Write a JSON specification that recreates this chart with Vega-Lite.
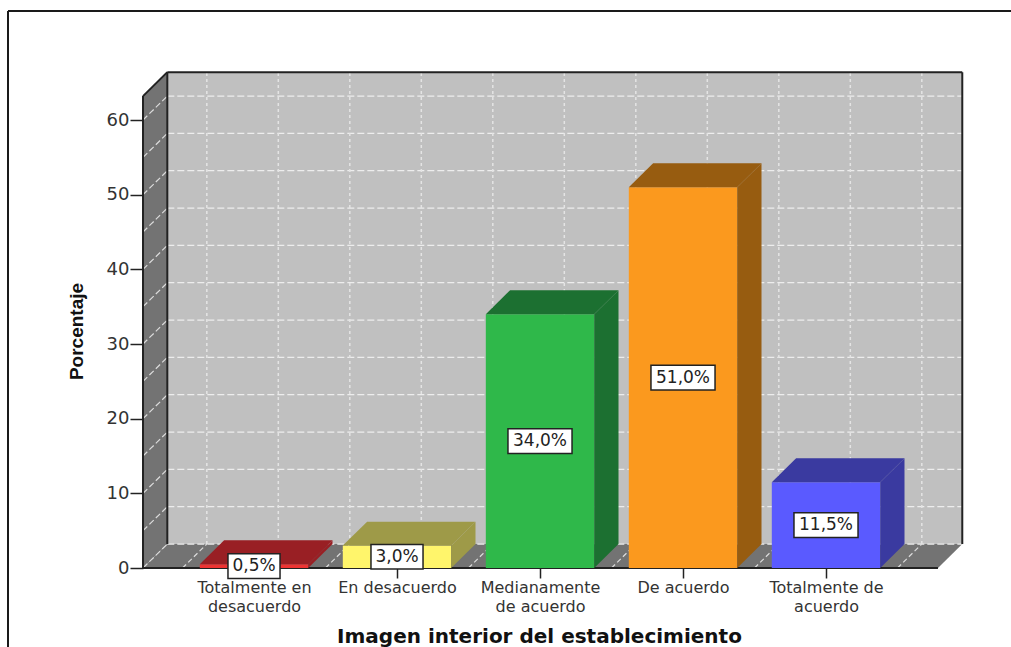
{
"$schema":"https://vega.github.io/schema/vega-lite/v6.json",
"width":1003,"height":636,
"autosize":"none",
"padding":{"left":8,"top":11,"right":0,"bottom":0},
"background":"white",
"view":{"stroke":null,"fill":"white"},
"params":[
{"name":"dx","value":0.17},
{"name":"dy","value":3.21},
{"name":"xMin","value":0.2238},
{"name":"xMax","value":5.783},
{"name":"yMax","value":63.2},
{"name":"hw","value":0.379},
{"name":"xLo","value":-0.7203},
{"name":"xHi","value":6.2937},
{"name":"yLo","value":-10.58},
{"name":"yHi","value":74.6}
],
"datasets":{
"bars":[
{"categoria":"Totalmente en desacuerdo","pos":1,"porcentaje":0.5,"etiqueta":"0,5%"},
{"categoria":"En desacuerdo","pos":2,"porcentaje":3.0,"etiqueta":"3,0%"},
{"categoria":"Medianamente de acuerdo","pos":3,"porcentaje":34.0,"etiqueta":"34,0%"},
{"categoria":"De acuerdo","pos":4,"porcentaje":51.0,"etiqueta":"51,0%"},
{"categoria":"Totalmente de acuerdo","pos":5,"porcentaje":11.5,"etiqueta":"11,5%"}
],
"levels":[{"v":0},{"v":5},{"v":10},{"v":15},{"v":20},{"v":25},{"v":30},{"v":35},{"v":40},{"v":45},{"v":50},{"v":55},{"v":60}],
"cuts":[{"c":0.5},{"c":1},{"c":1.5},{"c":2},{"c":2.5},{"c":3},{"c":3.5},{"c":4},{"c":4.5},{"c":5},{"c":5.5}],
"one":[{"k":0},{"k":1}],
"edges":[
{"a":0,"b":1,"z":0,"a2":0,"b2":0,"z2":0},
{"a":0,"b":1,"z":0,"a2":0,"b2":1,"z2":1},
{"a":0,"b":1,"z":1,"a2":1,"b2":1,"z2":1},
{"a":0,"b":0,"z":1,"a2":0,"b2":1,"z2":1},
{"a":1,"b":0,"z":1,"a2":1,"b2":1,"z2":1},
{"a":0,"b":0,"z":0,"a2":1,"b2":0,"z2":0}
],
"border":[
{"a":0,"b":0,"a2":0,"b2":1},
{"a":0,"b":1,"a2":1,"b2":1}
]
},
"data":{"name":"bars"},
"encoding":{
"x":{"field":"x","type":"quantitative","scale":{"domain":[-0.7203,6.2937],"nice":false,"zero":false},
"axis":{"orient":"bottom","offset":-79,"domain":false,"grid":false,"values":[1,2,3,4,5],"tickColor":"#222","tickSize":10,"tickWidth":1.5,
"labelExpr":"[['Totalmente en','desacuerdo'],['En desacuerdo'],['Medianamente','de acuerdo'],['De acuerdo'],['Totalmente de','acuerdo']][datum.value-1]",
"labelFont":"DejaVu Sans","labelFontSize":16,"labelColor":"#333","labelLineHeight":19,"labelPadding":1,"labelOverlap":false,"labelFlush":false,
"title":"Imagen interior del establecimiento","titleFont":"DejaVu Sans","titleFontSize":20,"titleFontWeight":"bold","titleColor":"#111","titleX":531,"titleY":74,"titleBaseline":"alphabetic"}},
"y":{"field":"y","type":"quantitative","scale":{"domain":[-10.58,74.6],"nice":false,"zero":false},
"axis":{"orient":"left","offset":-135,"domain":false,"grid":false,"values":[0,10,20,30,40,50,60],"tickColor":"#222","tickSize":13,"tickWidth":1.5,
"labelFont":"DejaVu Sans","labelFontSize":18,"labelColor":"#333","labelPadding":1,
"title":"Porcentaje","titleFont":"Liberation Sans","titleFontSize":19,"titleFontWeight":"bold","titleColor":"#111","titleAngle":270,"titleX":-57,"titleY":320}}
},
"layer":[
{"data":{"name":"border"},"transform":[
{"calculate":"xLo+datum.a*(xHi-xLo)","as":"x"},{"calculate":"xLo+datum.a2*(xHi-xLo)","as":"x2"},
{"calculate":"yLo+datum.b*(yHi-yLo)","as":"y"},{"calculate":"yLo+datum.b2*(yHi-yLo)","as":"y2"}],
"mark":{"type":"rule","color":"#1a1a1a","strokeWidth":2},"encoding":{"x2":{"field":"x2"},"y2":{"field":"y2"}}},
{"data":{"name":"one"},"transform":[{"filter":"datum.k==0"},{"calculate":"xMin+dx","as":"x"},{"calculate":"xMax+dx","as":"x2"},{"calculate":"dy","as":"y"},{"calculate":"yMax+dy","as":"y2"}],
"mark":{"type":"rect","fill":"#c0c0c0"},"encoding":{"x2":{"field":"x2"},"y2":{"field":"y2"}}},
{"data":{"name":"one"},"transform":[{"calculate":"xMin+datum.k*dx","as":"x"},{"calculate":"datum.k*dy","as":"y"},{"calculate":"yMax+datum.k*dy","as":"y2"}],
"mark":{"type":"area","fill":"#737373","orient":"vertical"},"encoding":{"y2":{"field":"y2"}}},
{"data":{"name":"one"},"transform":[{"calculate":"datum.k*dy","as":"y"},{"calculate":"xMin+datum.k*dx","as":"x"},{"calculate":"xMax+datum.k*dx","as":"x2"}],
"mark":{"type":"area","fill":"#737373","orient":"horizontal"},"encoding":{"x2":{"field":"x2"}}},
{"data":{"name":"levels"},"transform":[{"calculate":"xMin+dx","as":"x"},{"calculate":"xMax+dx","as":"x2"},{"calculate":"datum.v+dy","as":"y"},{"calculate":"datum.v+dy","as":"y2"}],
"mark":{"type":"rule","color":"#ededed","strokeWidth":1.2,"strokeDash":[7,3]},"encoding":{"x2":{"field":"x2"},"y2":{"field":"y2"}}},
{"data":{"name":"levels"},"transform":[{"calculate":"xMin","as":"x"},{"calculate":"xMin+dx","as":"x2"},{"calculate":"datum.v","as":"y"},{"calculate":"datum.v+dy","as":"y2"}],
"mark":{"type":"rule","color":"#dcdcdc","strokeWidth":1.2,"strokeDash":[6,3]},"encoding":{"x2":{"field":"x2"},"y2":{"field":"y2"}}},
{"data":{"name":"cuts"},"transform":[{"calculate":"datum.c+dx","as":"x"},{"calculate":"datum.c+dx","as":"x2"},{"calculate":"dy","as":"y"},{"calculate":"yMax+dy","as":"y2"}],
"mark":{"type":"rule","color":"#e4e4e4","strokeWidth":1.5,"strokeDash":[3,3]},"encoding":{"x2":{"field":"x2"},"y2":{"field":"y2"}}},
{"data":{"name":"cuts"},"transform":[{"calculate":"datum.c","as":"x"},{"calculate":"datum.c+dx","as":"x2"},{"calculate":"0","as":"y"},{"calculate":"dy","as":"y2"}],
"mark":{"type":"rule","color":"#dcdcdc","strokeWidth":1.2,"strokeDash":[5,3]},"encoding":{"x2":{"field":"x2"},"y2":{"field":"y2"}}},
{"data":{"name":"edges"},"transform":[
{"calculate":"xMin+datum.a*(xMax-xMin)+datum.z*dx","as":"x"},
{"calculate":"xMin+datum.a2*(xMax-xMin)+datum.z2*dx","as":"x2"},
{"calculate":"datum.b*yMax+datum.z*dy","as":"y"},
{"calculate":"datum.b2*yMax+datum.z2*dy","as":"y2"}],
"mark":{"type":"rule","color":"#222","strokeWidth":2},"encoding":{"x2":{"field":"x2"},"y2":{"field":"y2"}}},
{"transform":[{"calculate":"datum.pos-hw","as":"x"},{"calculate":"datum.pos+hw","as":"x2"},{"calculate":"0","as":"y"},{"calculate":"datum.porcentaje","as":"y2"}],
"mark":{"type":"rect"},
"encoding":{"x2":{"field":"x2"},"y2":{"field":"y2"},
"color":{"field":"categoria","type":"nominal","legend":null,"scale":{"domain":["Totalmente en desacuerdo","En desacuerdo","Medianamente de acuerdo","De acuerdo","Totalmente de acuerdo"],"range":["#ee3333","#fff56b","#2fb84a","#fb991e","#5a5aff"]}}}},
{"transform":[{"calculate":"[0,1]","as":"k"},{"flatten":["k"]},{"calculate":"datum.porcentaje+datum.k*dy","as":"y"},{"calculate":"datum.pos-hw+datum.k*dx","as":"x"},{"calculate":"datum.pos+hw+datum.k*dx","as":"x2"}],
"mark":{"type":"area","orient":"horizontal"},
"encoding":{"x2":{"field":"x2"},
"color":{"field":"categoria","type":"nominal","legend":null,"scale":{"domain":["Totalmente en desacuerdo","En desacuerdo","Medianamente de acuerdo","De acuerdo","Totalmente de acuerdo"],"range":["#991f24","#9e9a48","#1c7031","#975c10","#3a3aa0"]}}}},
{"transform":[{"calculate":"[0,1]","as":"k"},{"flatten":["k"]},{"calculate":"datum.pos+hw+datum.k*dx","as":"x"},{"calculate":"datum.k*dy","as":"y"},{"calculate":"datum.porcentaje+datum.k*dy","as":"y2"}],
"mark":{"type":"area","orient":"vertical"},
"encoding":{"y2":{"field":"y2"},
"color":{"field":"categoria","type":"nominal","legend":null,"scale":{"domain":["Totalmente en desacuerdo","En desacuerdo","Medianamente de acuerdo","De acuerdo","Totalmente de acuerdo"],"range":["#991f24","#9e9a48","#1c7031","#975c10","#3a3aa0"]}}}},
{"transform":[{"calculate":"length(datum.etiqueta)==4?0.182:0.224","as":"bw"},{"calculate":"datum.pos-datum.bw","as":"x"},{"calculate":"datum.pos+datum.bw","as":"x2"},{"calculate":"datum.porcentaje/2-1.65","as":"y"},{"calculate":"datum.porcentaje/2+1.65","as":"y2"}],
"mark":{"type":"rect","fill":"white","stroke":"#222","strokeWidth":1.5},
"encoding":{"x2":{"field":"x2"},"y2":{"field":"y2"}}},
{"transform":[{"calculate":"datum.pos","as":"x"},{"calculate":"datum.porcentaje/2","as":"y"}],
"mark":{"type":"text","font":"DejaVu Sans","fontSize":17,"color":"#222","baseline":"middle","align":"center"},
"encoding":{"text":{"field":"etiqueta"}}}
],
"resolve":{"scale":{"color":"independent"}}
}
